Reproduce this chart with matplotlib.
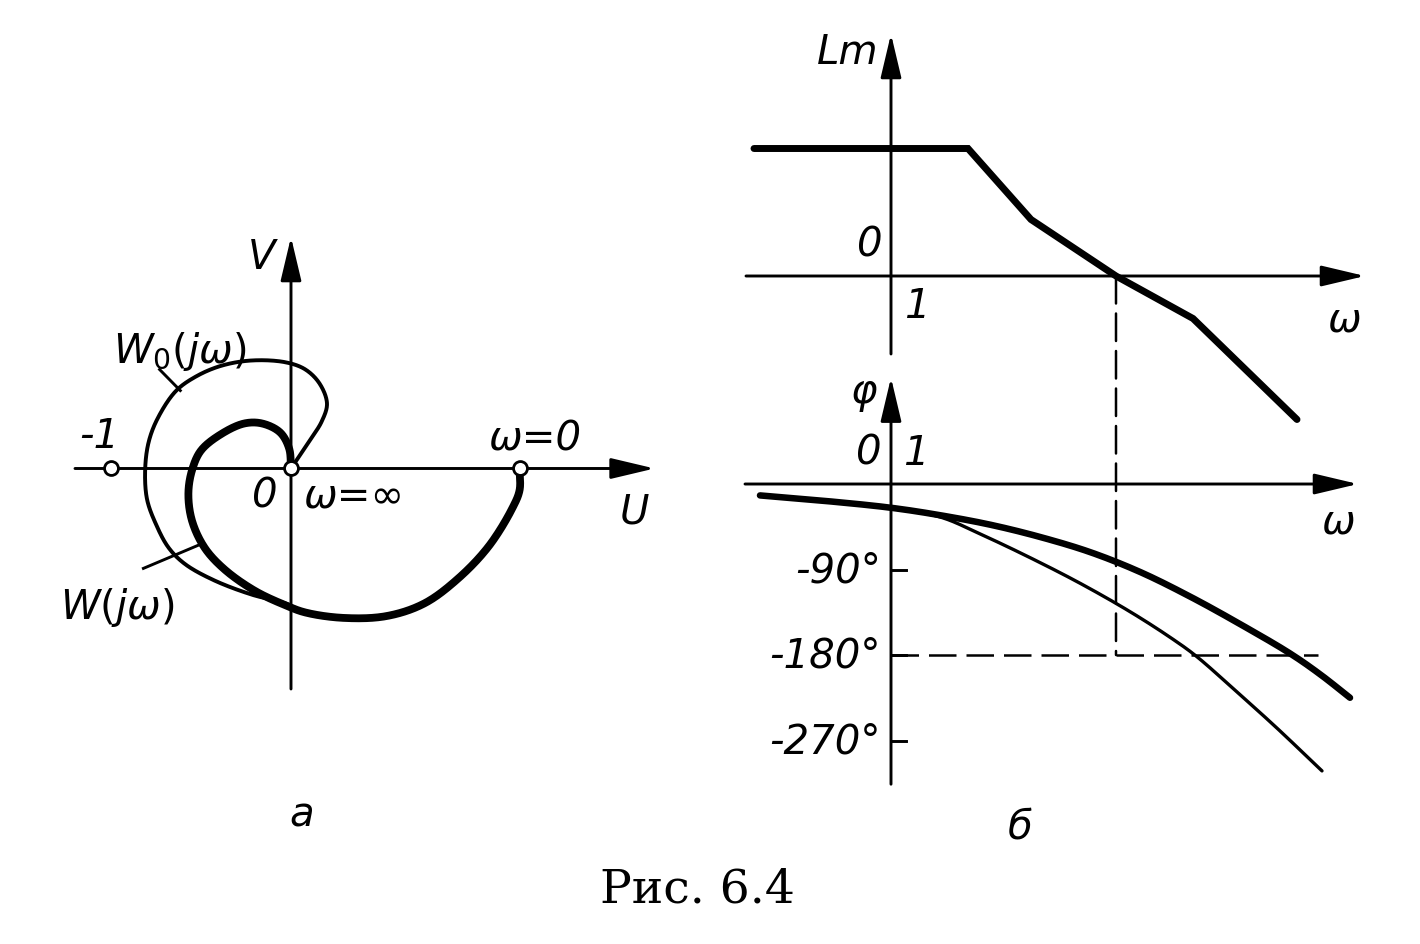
import numpy as np
import matplotlib
matplotlib.use('Agg')
import matplotlib.pyplot as plt
from matplotlib.patches import ConnectionPatch

# ---------------- data: (a) Nyquist plane, U / V units ----------------
w_u = [1.27, 1.27, 1.23, 1.10, 0.93, 0.74, 0.53, 0.29, 0.08, -0.03, -0.20, -0.37,
       -0.48, -0.55, -0.57, -0.55, -0.50, -0.39, -0.26, -0.16, -0.06, -0.01, 0.0]
w_v = [0.0, -0.12, -0.22, -0.43, -0.61, -0.75, -0.82, -0.83, -0.80, -0.76, -0.68, -0.56,
       -0.44, -0.29, -0.14, -0.01, 0.10, 0.19, 0.25, 0.25, 0.20, 0.11, 0.0]

w0_u = [0.0, 0.10, 0.17, 0.20, 0.16, 0.08, -0.03, -0.22, -0.39, -0.53, -0.64, -0.74,
        -0.79, -0.81, -0.80, -0.75, -0.68, -0.59, -0.43, -0.22, -0.03, 0.08, 0.29,
        0.53, 0.74, 0.93, 1.10, 1.23, 1.27, 1.27]
w0_v = [0.0, 0.15, 0.26, 0.36, 0.47, 0.55, 0.59, 0.60, 0.57, 0.51, 0.43, 0.28,
        0.15, 0.0, -0.17, -0.31, -0.44, -0.53, -0.62, -0.70, -0.75, -0.80, -0.83,
        -0.82, -0.75, -0.61, -0.43, -0.22, -0.12, 0.0]

critical_point = (-1.0, 0.0)

# ---------------- data: (б) Bode diagrams, x = lg(omega) ----------------
lm_lg = [-1.37, 0.77, 1.40, 2.25, 3.02, 4.06]
lm_db = [25.5, 25.5, 11.3, 0.0, -8.5, -28.7]

ph_lg = [-1.31, -0.69, 0.0, 0.5, 1.0, 1.5, 2.0, 2.5, 3.0, 3.5, 4.0, 4.3, 4.59]
ph_w = [-12, -17.5, -25, -33, -43, -56, -72, -93, -119, -148, -179, -201, -225]

ph0_lg = [0.0, 0.5, 0.9, 1.4, 1.9, 2.4, 2.8, 3.05, 3.45, 3.85, 4.31]
ph0_w = [-25, -35, -53, -78, -105, -135, -162, -181, -218, -256, -302]

phase_ticks = [-90, -180, -270]
phase_tick_labels = ['-90°', '-180°', '-270°']

# ---------------- styling ----------------
W, H = 1420, 945
AX_LW = 2.1
THICK = 5.6
THIN = 2.8
FS = 29
plt.rcParams['mathtext.fontset'] = 'dejavusans'
plt.rcParams['mathtext.default'] = 'it'
TXT = dict(family='DejaVu Sans', style='italic', fontsize=FS, color='k',
           ha='center', va='center')

fig = plt.figure(figsize=(W / 100, H / 100), dpi=100)
fig.patch.set_facecolor('white')


def rect(x0, y0, x1, y1):
    return [x0 / W, 1 - y1 / H, (x1 - x0) / W, (y1 - y0) / H]


def smooth(xs, ys, sx=1.0, sy=1.0, n=30):
    """Centripetal Catmull-Rom through the read points (drawing only)."""
    P = np.column_stack([np.asarray(xs, float) * sx, np.asarray(ys, float) * sy])
    P = np.vstack([2 * P[0] - P[1], P, 2 * P[-1] - P[-2]])
    out = []
    for i in range(1, len(P) - 2):
        p0, p1, p2, p3 = P[i - 1], P[i], P[i + 1], P[i + 2]
        t0 = 0.0
        t1 = t0 + max(np.linalg.norm(p1 - p0), 1e-9) ** 0.5
        t2 = t1 + max(np.linalg.norm(p2 - p1), 1e-9) ** 0.5
        t3 = t2 + max(np.linalg.norm(p3 - p2), 1e-9) ** 0.5
        t = np.linspace(t1, t2, n, endpoint=False)[:, None]
        A1 = (t1 - t) / (t1 - t0) * p0 + (t - t0) / (t1 - t0) * p1
        A2 = (t2 - t) / (t2 - t1) * p1 + (t - t1) / (t2 - t1) * p2
        A3 = (t3 - t) / (t3 - t2) * p2 + (t - t2) / (t3 - t2) * p3
        B1 = (t2 - t) / (t2 - t0) * A1 + (t - t0) / (t2 - t0) * A2
        B2 = (t3 - t) / (t3 - t1) * A2 + (t - t1) / (t3 - t1) * A3
        C = (t2 - t) / (t2 - t1) * B1 + (t - t1) / (t2 - t1) * B2
        out.append(C)
    out.append(P[-2][None, :])
    out = np.vstack(out)
    return out[:, 0] / sx, out[:, 1] / sy


def arrow(ax, x0, y0, x1, y1):
    ax.annotate('', xy=(x1, y1), xytext=(x0, y0),
                arrowprops=dict(arrowstyle='-|>,head_length=1.35,head_width=0.32',
                                lw=AX_LW, color='k', shrinkA=0, shrinkB=0,
                                mutation_scale=20))


# ---------------- (a) Nyquist ----------------
axN = fig.add_axes(rect(40, 220, 680, 720))
axN.set_xlim(-1.3944, 2.1611)
axN.set_ylim(-1.3917, 1.3861)
axN.axis('off')

arrow(axN, -1.20, 0, 2.02, 0)
arrow(axN, 0, -1.225, 0, 1.286)

xs, ys = smooth(w0_u, w0_v)
axN.plot(xs, ys, color='k', lw=THIN, solid_capstyle='round', zorder=3)
xs, ys = smooth(w_u, w_v)
axN.plot(xs, ys, color='k', lw=THICK, solid_capstyle='round', zorder=4)

axN.plot([-0.73, -0.615], [0.55, 0.433], color='k', lw=AX_LW)
axN.plot([-0.82, -0.50], [-0.555, -0.42], color='k', lw=AX_LW)

mk_u = [critical_point[0], w_u[-1], w_u[0]]
mk_v = [critical_point[1], w_v[-1], w_v[0]]
axN.plot(mk_u, mk_v, 'o', ms=10, mfc='white', mec='k', mew=2.0, zorder=6)

axN.text(-0.161, 1.175, 'V', **TXT)
axN.text(-0.617, 0.653, r'$W_0(j\omega)$', **TXT)
axN.text(-1.067, 0.181, '-1', **TXT)
axN.text(1.356, 0.169, 'ω=0', **TXT)
axN.text(-0.144, -0.147, '0', **TXT)
axN.text(0.35, -0.147, 'ω=∞', **TXT)
axN.text(1.906, -0.236, 'U', **TXT)
axN.text(-0.967, -0.764, r'$W(j\omega)$', **TXT)

# ---------------- (б) Lm ----------------
axL = fig.add_axes(rect(740, 20, 1400, 450))
axL.set_xlim(-1.51, 5.09)
axL.set_ylim(-34.6, 51.4)
axL.axis('off')

arrow(axL, -1.45, 0, 4.74, 0)
arrow(axL, 0, -15.6, 0, 48.4)
axL.plot(lm_lg, lm_db, color='k', lw=5.0, solid_capstyle='round',
         solid_joinstyle='miter', zorder=4)

axL.text(-0.43, 45, 'Lm', **TXT)
axL.text(-0.21, 6.4, '0', **TXT)
axL.text(0.26, -5.8, '1', **TXT)
axL.text(4.53, -8.6, 'ω', **TXT)

# ---------------- (б) phase ----------------
axP = fig.add_axes(rect(740, 360, 1400, 810))
axP.set_xlim(-1.51, 5.09)
axP.set_ylim(-342.1, 131.6)
axP.axis('off')

arrow(axP, -1.46, 0, 4.67, 0)
arrow(axP, 0, -316, 0, 112)
for tk, lab in zip(phase_ticks, phase_tick_labels):
    axP.plot([0, 0.15], [tk, tk], color='k', lw=AX_LW)
    axP.text(-0.1, tk, lab, **{**TXT, 'ha': 'right'})

xs, ys = smooth(ph0_lg, ph0_w, sx=100, sy=0.95)
axP.plot(xs, ys, color='k', lw=2.4, solid_capstyle='round', zorder=3)
xs, ys = smooth(ph_lg, ph_w, sx=100, sy=0.95)
axP.plot(xs, ys, color='k', lw=4.7, solid_capstyle='round', zorder=4)

axP.text(-0.28, 97.9, 'φ', **TXT)
axP.text(-0.22, 33.7, '0', **TXT)
axP.text(0.25, 33.7, '1', **TXT)
axP.text(4.47, -38.9, 'ω', **TXT)

# crossover frequency and -180° level
lg_c = float(np.interp(0.0, lm_db[::-1], lm_lg[::-1]))
DASH = (0, (11, 4))
axP.plot([0, 4.27], [-180, -180], color='k', lw=1.8, linestyle=DASH, zorder=2)
con = ConnectionPatch(xyA=(lg_c, 0), coordsA=axL.transData,
                      xyB=(lg_c, -180), coordsB=axP.transData,
                      color='k', lw=1.8, linestyle=DASH, zorder=2)
fig.add_artist(con)

# ---------------- captions ----------------
fig.text(302 / W, 1 - 815 / H, 'а', **TXT)
fig.text(1020 / W, 1 - 828 / H, 'б', **TXT)
fig.text(697 / W, 1 - 890 / H, 'Рис. 6.4', family='DejaVu Serif', fontsize=34,
         ha='center', va='center', color='k')

fig.savefig('out.png', dpi=100, facecolor='white')
